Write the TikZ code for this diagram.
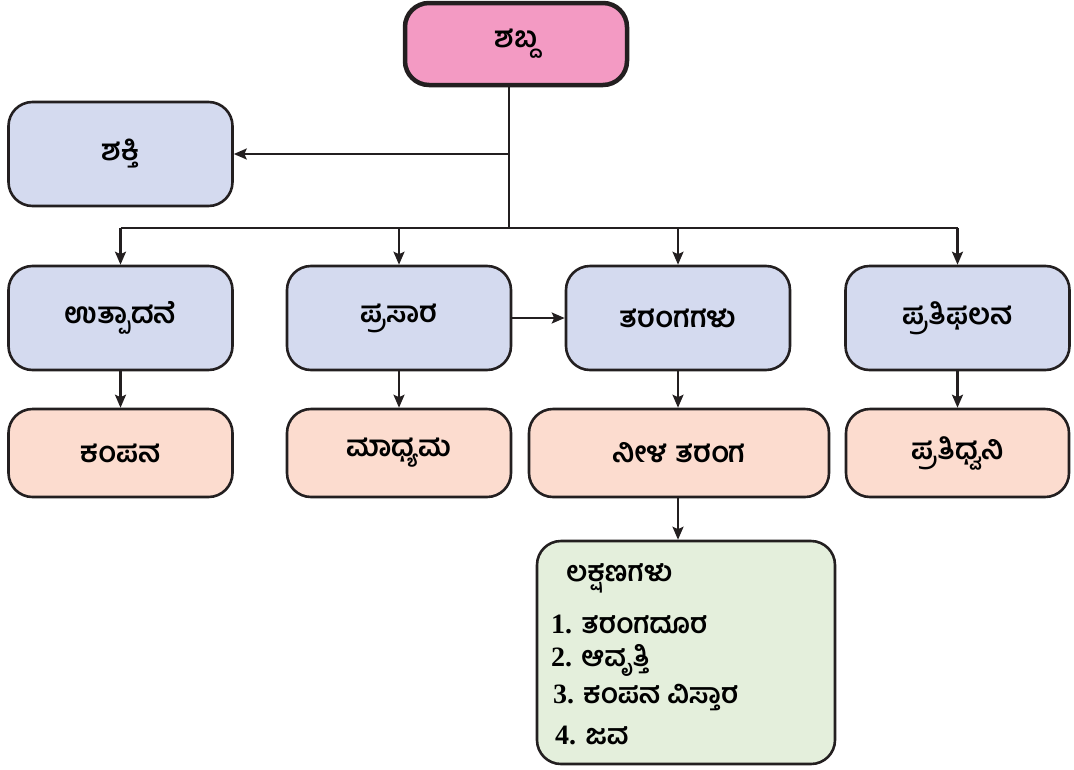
\documentclass[tikz,border=0pt]{standalone}
\usepackage{fontspec}
\newfontfamily\kn[Script=Kannada]{Hind Mysuru}
\newfontfamily\numf{Liberation Serif}
\usetikzlibrary{arrows.meta}
\definecolor{pinkf}{HTML}{F39AC3}
\definecolor{bluef}{HTML}{D4DAEF}
\definecolor{peachf}{HTML}{FCDCCF}
\definecolor{greenf}{HTML}{E4EFDC}
\definecolor{edge}{HTML}{231F20}
\tikzset{
  basebox/.style={draw=edge, line width=2.6pt, rounded corners=24pt, inner sep=0pt,
    font=\kn\bfseries\fontsize{29}{33}\selectfont},
  topbox/.style={basebox, fill=pinkf, line width=4.5pt, minimum width=222pt, minimum height=82pt},
  bluebox/.style={basebox, fill=bluef, minimum width=224pt, minimum height=104pt},
  peachbox/.style={basebox, fill=peachf, minimum height=88pt},
  greenbox/.style={basebox, fill=greenf, minimum width=298pt, minimum height=223pt},
  item/.style={anchor=west, inner sep=0pt, font=\kn\bfseries\fontsize{28}{32}\selectfont},
  conn/.style={draw=edge, line width=2.2pt},
  arr/.style={conn, -{Stealth[length=13pt,width=11pt,inset=2.5pt]}}
}
\begin{document}
\begin{tikzpicture}[x=1pt,y=-1pt]
\useasboundingbox (0,0) rectangle (1074,769);
% nodes
\node[topbox] (shabda) at (516,44) {ಶಬ್ದ};
\node[bluebox] (shakti) at (120.5,154) {ಶಕ್ತಿ};
\node[bluebox] (utpadane) at (120.5,318) {ಉತ್ಪಾದನೆ};
\node[bluebox] (prasara) at (399,318) {ಪ್ರಸಾರ};
\node[bluebox] (taranga) at (678,318) {ತರಂಗಗಳು};
\node[bluebox] (pratiphalana) at (957.5,318) {ಪ್ರತಿಫಲನ};
\node[peachbox, minimum width=224pt] (kampana) at (120.5,453) {ಕಂಪನ};
\node[peachbox, minimum width=224pt] (madhyama) at (399,453) {ಮಾಧ್ಯಮ};
\node[peachbox, minimum width=300pt] (neela) at (679,453) {ನೀಳ ತರಂಗ};
\node[peachbox, minimum width=223pt] (pratidhvani) at (957.5,453) {ಪ್ರತಿಧ್ವನಿ};
\node[greenbox] (lakshana) at (686,652.5) {};
\node[item] (t0) at (566,578) {ಲಕ್ಷಣಗಳು};
\node[item] (t1) at (551,624) {{\numf\bfseries 1.} ತರಂಗದೂರ};
\node[item] (t2) at (551,660) {{\numf\bfseries 2.} ಆವೃತ್ತಿ};
\node[item] (t3) at (553,697) {{\numf\bfseries 3.} ಕಂಪನ ವಿಸ್ತಾರ};
\node[item] (t4) at (555,735) {{\numf\bfseries 4.} ಜವ};
% connectors
\coordinate (j1) at (509,154);
\coordinate (j2) at (509,228);
\draw[conn] (shabda.south -| j1) -- (j2);
\draw[arr] (j1) -- (shakti.east);
\draw[conn] (utpadane.north |- j2) -- (pratiphalana.north |- j2);
\foreach \n in {utpadane,prasara,taranga,pratiphalana}
  \draw[arr] (\n.north |- j2) -- (\n.north);
\draw[arr] (prasara.east) -- (taranga.west);
\draw[arr] (utpadane.south) -- (kampana.north -| utpadane.south);
\draw[arr] (prasara.south) -- (madhyama.north -| prasara.south);
\draw[arr] (taranga.south) -- (neela.north -| taranga.south);
\draw[arr] (pratiphalana.south) -- (pratidhvani.north -| pratiphalana.south);
\draw[arr] (neela.south -| taranga.south) -- (lakshana.north -| taranga.south);
\end{tikzpicture}
\end{document}
